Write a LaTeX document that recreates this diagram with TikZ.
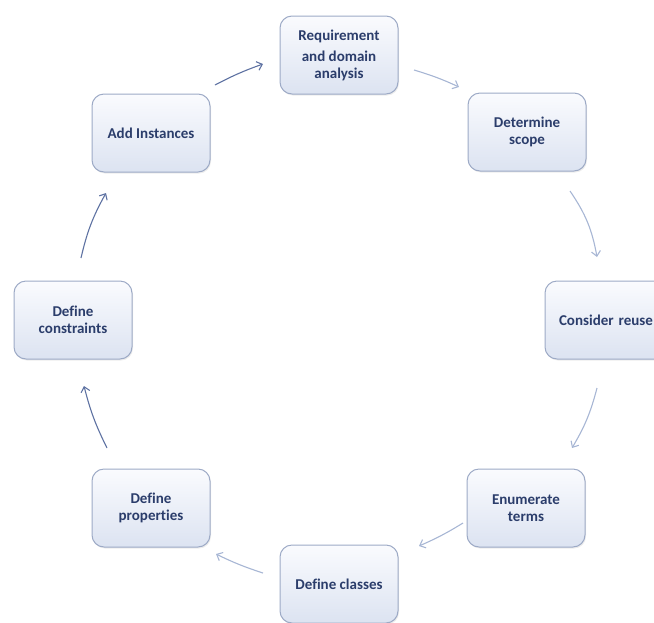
\documentclass[tikz,border=0pt]{standalone}
\usepackage{fontspec}
\setmainfont{Carlito}[Ligatures=NoCommon]
\usetikzlibrary{arrows.meta,shadows}
\definecolor{txt}{HTML}{2B3D6B}
\definecolor{bord}{HTML}{9DAAC6}
\definecolor{ftop}{HTML}{FAFBFE}
\definecolor{fbot}{HTML}{DCE3F1}
\definecolor{arrlight}{HTML}{A7B6D4}
\definecolor{arrdark}{HTML}{5E72A2}
\tikzset{
  stagebox/.style={draw=bord, line width=1pt, rounded corners=12pt,
    top color=ftop, bottom color=fbot, minimum width=118pt, minimum height=78pt,
    align=center, text=txt, font=\bfseries\fontsize{15}{16.5}\selectfont,
    drop shadow={opacity=0.15, shadow xshift=1pt, shadow yshift=-1.5pt}},
  flowlight/.style={draw=arrlight, line width=1.1pt, -{Straight Barb[length=5pt,width=9pt]}},
  flowdark/.style={draw=arrdark, line width=1.1pt, -{Straight Barb[length=5pt,width=9pt]}}
}
\begin{document}
\begin{tikzpicture}[x=1pt,y=-1pt]
\useasboundingbox (0,0) rectangle (654,622);
\begin{scope}
\clip (0,0) rectangle (654,622);
\node[stagebox] (req) at (339,55) {Requirement\\[5pt]and domain\\analysis};
\node[stagebox] (det) at (527,132) {Determine\\scope};
\node[stagebox, minimum width=122pt, text width=110pt] (reuse) at (606,320) {Consider reuse};
\node[stagebox] (enum) at (526,508) {Enumerate\\terms};
\node[stagebox] (cls) at (339,584) {Define classes};
\node[stagebox] (prop) at (151,508) {Define\\properties};
\node[stagebox] (cons) at (73,320) {Define\\constraints};
\node[stagebox] (add) at (151,133) {Add Instances};
\end{scope}
% connector end points
\coordinate (a1) at (215,85);   \coordinate (b1) at (263,64);
\coordinate (a2) at (414,70);   \coordinate (b2) at (459,87);
\coordinate (a3) at (570,191);  \coordinate (b3) at (597,257);
\coordinate (a4) at (597,388);  \coordinate (b4) at (572,448);
\coordinate (a5) at (463,523);  \coordinate (b5) at (419,546);
\coordinate (a6) at (263,573);  \coordinate (b6) at (216,554);
\coordinate (a7) at (107,448);  \coordinate (b7) at (84,386);
\coordinate (a8) at (81,258);   \coordinate (b8) at (106,193);
\draw[flowdark] (a1) to[bend left=4] (b1);
\draw[flowlight] (a2) to[bend left=4] (b2);
\draw[flowlight] (a3) to[bend left=12] (b3);
\draw[flowlight] (a4) to[bend left=8] (b4);
\draw[flowlight] (a5) to[bend left=4] (b5);
\draw[flowlight] (a6) to[bend left=4] (b6);
\draw[flowdark] (a7) to[bend left=6] (b7);
\draw[flowdark] (a8) to[bend left=8] (b8);
\end{tikzpicture}
\end{document}
